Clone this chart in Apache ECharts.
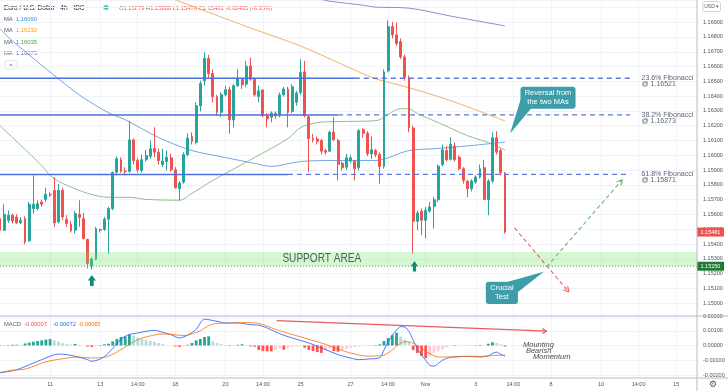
<!DOCTYPE html>
<html>
<head>
<meta charset="utf-8">
<script src="https://cdn.jsdelivr.net/npm/echarts@6/dist/echarts.min.js"></script>
<style>
html,body{margin:0;padding:0;background:#ffffff;}
#chart{width:728px;height:391px;}
</style>
</head>
<body>
<div id="chart"></div>
<script>
// ---------------- data ----------------
const slotCount = 168;
// [open, high, low, close] per 4h candle
const candles = [
[1.15572,1.15606,1.15471,1.15494],[1.15494,1.15669,1.15489,1.15601],[1.15561,1.15628,1.15543,1.15595],[1.15595,1.15606,1.15539,1.15556],
[1.15583,1.15601,1.15534,1.15543],[1.15543,1.15583,1.15534,1.15561],[1.15572,1.15588,1.15399,1.15415],[1.15422,1.15684,1.15415,1.15669],
[1.15640,1.15864,1.15606,1.15669],[1.15640,1.15696,1.15628,1.15673],[1.15684,1.15700,1.15651,1.15669],[1.15702,1.15781,1.15684,1.15736],
[1.15736,1.15748,1.15718,1.15732],[1.15763,1.15853,1.15516,1.15543],[1.15550,1.15808,1.15539,1.15763],[1.15763,1.15781,1.15561,1.15583],
[1.15565,1.15595,1.15516,1.15539],[1.15534,1.15556,1.15478,1.15489],[1.15494,1.15624,1.15471,1.15606],[1.15601,1.15696,1.15516,1.15579],
[1.15572,1.15610,1.15431,1.15437],[1.15431,1.15437,1.15235,1.15269],[1.15253,1.15310,1.15229,1.15298],[1.15298,1.15516,1.15290,1.15505],
[1.15498,1.15505,1.15478,1.15494],[1.15498,1.15583,1.15489,1.15568],[1.15568,1.15651,1.15336,1.15640],[1.15640,1.15889,1.15628,1.15884],
[1.15886,1.15994,1.15864,1.15976],[1.15970,1.15987,1.15882,1.15893],[1.15893,1.15920,1.15864,1.15889],[1.15891,1.16234,1.15882,1.16104],
[1.16104,1.16115,1.15938,1.15965],[1.15965,1.15983,1.15884,1.15902],[1.15898,1.16005,1.15884,1.15970],[1.15970,1.16037,1.15958,1.15999],
[1.15994,1.16100,1.15976,1.16044],[1.16046,1.16189,1.15987,1.16021],[1.16021,1.16046,1.15938,1.15965],[1.15936,1.16044,1.15920,1.15961],
[1.15958,1.16032,1.15898,1.15987],[1.15983,1.16010,1.15889,1.15902],[1.15902,1.15920,1.15774,1.15781],[1.15774,1.15826,1.15696,1.15812],
[1.15819,1.16021,1.15808,1.16005],[1.16005,1.16149,1.15994,1.16115],[1.16127,1.16156,1.16073,1.16095],[1.16088,1.16358,1.16073,1.16335],
[1.16335,1.16504,1.16297,1.16486],[1.16504,1.16695,1.16470,1.16656],[1.16654,1.16680,1.16526,1.16553],[1.16553,1.16582,1.16358,1.16396],
[1.16396,1.16409,1.16268,1.16291],[1.16291,1.16425,1.16257,1.16409],[1.16409,1.16470,1.16398,1.16443],[1.16443,1.16463,1.16145,1.16239],
[1.16239,1.16481,1.16189,1.16470],[1.16470,1.16582,1.16463,1.16522],[1.16513,1.16526,1.16448,1.16477],[1.16481,1.16638,1.16463,1.16602],
[1.16605,1.16661,1.16504,1.16515],[1.16515,1.16526,1.16396,1.16409],[1.16398,1.16470,1.16358,1.16436],[1.16441,1.16448,1.16257,1.16268],
[1.16268,1.16284,1.16189,1.16246],[1.16257,1.16297,1.16223,1.16286],[1.16284,1.16297,1.16246,1.16266],[1.16268,1.16425,1.16257,1.16407],
[1.16409,1.16463,1.16396,1.16448],[1.16448,1.16463,1.16189,1.16291],[1.16297,1.16481,1.16284,1.16463],[1.16358,1.16436,1.16335,1.16421],
[1.16425,1.16650,1.16409,1.16560],[1.16564,1.16638,1.16257,1.16268],[1.16261,1.16268,1.15886,1.16113],[1.16113,1.16145,1.16088,1.16104],
[1.16111,1.16127,1.16073,1.16095],[1.16100,1.16111,1.16005,1.16028],[1.16032,1.16044,1.16005,1.16021],[1.16028,1.16167,1.16021,1.16156],
[1.16156,1.16257,1.16095,1.16106],[1.16100,1.16111,1.15830,1.15938],[1.15947,1.15958,1.15898,1.15916],[1.15920,1.16010,1.15902,1.15983],
[1.15961,1.15999,1.15947,1.15983],[1.15961,1.15970,1.15830,1.15909],[1.15916,1.16178,1.15898,1.16167],[1.16172,1.16185,1.16118,1.16149],
[1.16149,1.16163,1.15994,1.16010],[1.16010,1.16127,1.15976,1.16037],[1.16032,1.16044,1.15987,1.16005],[1.16005,1.16021,1.15808,1.15925],
[1.15925,1.16582,1.15909,1.16564],[1.16571,1.16912,1.16560,1.16870],[1.16870,1.16903,1.16790,1.16814],[1.16814,1.16897,1.16740,1.16755],
[1.16769,1.16790,1.16650,1.16665],[1.16665,1.16680,1.16504,1.16526],[1.16526,1.16540,1.16156,1.16185],[1.16185,1.16200,1.15336,1.15554],
[1.15554,1.15628,1.15494,1.15610],[1.15622,1.15640,1.15460,1.15561],[1.15561,1.15651,1.15437,1.15628],[1.15624,1.15684,1.15610,1.15651],
[1.15655,1.15718,1.15505,1.15700],[1.15700,1.15938,1.15684,1.15927],[1.15938,1.16073,1.15925,1.16037],[1.16032,1.16062,1.15958,1.15970],
[1.15974,1.16122,1.15965,1.16073],[1.16062,1.16088,1.15958,1.15970],[1.15987,1.15999,1.15898,1.15909],[1.15909,1.15920,1.15808,1.15830],
[1.15826,1.15830,1.15718,1.15774],[1.15774,1.15838,1.15755,1.15826],[1.15819,1.15864,1.15808,1.15853],[1.15853,1.15938,1.15842,1.15909],
[1.15916,1.15970,1.15696,1.15702],[1.15700,1.15838,1.15595,1.15826],[1.15826,1.16156,1.15812,1.16118],[1.16118,1.16163,1.16005,1.16021],
[1.16032,1.16046,1.15864,1.15882],[1.15879,1.15888,1.15470,1.15481]
];
// moving averages: [candle index, price]
const maBlue = [[0,1.16854],[3,1.16773],[14,1.16517],[20,1.16389],[26,1.16288],[30,1.16241],[38,1.16120],[46,1.16032],[54,1.15985],[61,1.15945],[65,1.15925],[72,1.15958],[81,1.15965],[90,1.15965],[98,1.16032],[105,1.16046],[113,1.16066],[121,1.16090]];
const maOrange = [[41,1.17062],[60,1.16861],[72,1.16739],[87,1.16551],[90,1.16517],[98,1.16457],[108,1.16369],[121,1.16232]];
const maGreen = [[0,1.16201],[5,1.16066],[10,1.15931],[12,1.15864],[15,1.15810],[21,1.15743],[26,1.15716],[31,1.15716],[35,1.15702],[43,1.15696],[46,1.15743],[51,1.15830],[61,1.15985],[69,1.16113],[72,1.16187],[76,1.16221],[81,1.16228],[90,1.16234],[96,1.16315],[98,1.16315],[100,1.16282],[105,1.16221],[112,1.16133],[117,1.16086],[121,1.16035]];
const maPurple = [[76,1.17060],[79,1.17042],[87,1.17015],[90,1.17002],[98,1.16995],[108,1.16941],[121,1.16875]];
const maLegendValues = ['1.16090','1.16232','1.16035','1.16875'];
// MACD pane
const macdLine = [[0,-0.00186],[4,-0.00164],[8,-0.00119],[10,-0.00096],[14,-0.00058],[16,-0.00062],[18,-0.00073],[21,-0.00096],[22,-0.00107],[24,-0.00092],[25,-0.00075],[26,-0.00050],[27,-0.00020],[28,0.00015],[29,0.00042],[30,0.00062],[31,0.00075],[33,0.00085],[37,0.00103],[39,0.00089],[41,0.00073],[43,0.00051],[45,0.00071],[47,0.00110],[49,0.00178],[52,0.00164],[54,0.00153],[57,0.00153],[60,0.00141],[62,0.00138],[64,0.00119],[67,0.00080],[70,0.00051],[74,0.00017],[78,-0.00028],[81,-0.00062],[84,-0.00085],[86,-0.00096],[88,-0.00092],[91,-0.00082],[92,-0.00030],[93,0.00025],[94,0.00070],[95,0.00105],[96,0.00128],[97,0.00124],[98,0.00095],[99,0.00035],[100,-0.00020],[101,-0.00065],[102,-0.00100],[103,-0.00135],[104,-0.00140],[105,-0.00122],[106,-0.00100],[108,-0.00080],[112,-0.00073],[115,-0.00078],[117,-0.00070],[118,-0.00053],[119,-0.00045],[120,-0.00060],[121,-0.00072]];
const signalLine = [[0,-0.00182],[3,-0.00168],[6,-0.00160],[9,-0.00130],[11,-0.00110],[16,-0.00085],[19,-0.00078],[22,-0.00085],[25,-0.00080],[27,-0.00060],[30,-0.00010],[32,0.00025],[34,0.00050],[37,0.00071],[39,0.00078],[41,0.00076],[44,0.00067],[48,0.00100],[50,0.00135],[52,0.00150],[55,0.00152],[59,0.00155],[62,0.00150],[66,0.00110],[70,0.00075],[74,0.00042],[78,0.00008],[81,-0.00024],[84,-0.00051],[88,-0.00072],[91,-0.00070],[92,-0.00065],[93,-0.00050],[94,-0.00030],[95,-0.00005],[96,0.00015],[97,0.00026],[98,0.00025],[99,0.00015],[100,0.00000],[101,-0.00020],[102,-0.00040],[103,-0.00055],[105,-0.00078],[108,-0.00078],[112,-0.00074],[116,-0.00073],[118,-0.00068],[121,-0.00065]];
const histogram = [
-0.00003,0.00001,0.00003,0.00005,0.00005,0.00004,0.00014,0.00020,0.00026,0.00030,
0.00035,0.00040,0.00044,0.00035,0.00026,0.00016,0.00010,0.00007,0.00011,0.00005,
0.00000,-0.00007,-0.00010,-0.00004,0.00003,0.00008,0.00012,0.00028,0.00044,0.00058,
0.00062,0.00073,0.00067,0.00053,0.00044,0.00037,0.00030,0.00024,0.00017,0.00010,
0.00003,0.00002,-0.00006,-0.00010,-0.00008,0.00005,0.00017,0.00035,0.00044,0.00058,
0.00062,0.00028,0.00017,0.00010,0.00003,0.00003,0.00002,0.00005,0.00008,0.00002,
-0.00006,-0.00008,-0.00030,-0.00038,-0.00040,-0.00040,-0.00030,-0.00020,-0.00028,-0.00018,
-0.00010,-0.00007,-0.00004,-0.00015,-0.00030,-0.00038,-0.00045,-0.00050,-0.00035,-0.00020,
-0.00038,-0.00042,-0.00030,-0.00024,-0.00017,-0.00011,-0.00006,-0.00003,0.00001,-0.00001,
0.00003,0.00008,0.00030,0.00050,0.00070,0.00087,0.00060,0.00040,0.00022,-0.00030,
-0.00050,-0.00070,-0.00085,-0.00072,-0.00052,-0.00040,-0.00025,-0.00012,-0.00005,0.00003,
0.00002,0.00001,-0.00001,0.00001,0.00002,0.00004,0.00001,0.00012,0.00022,0.00017,
0.00008,-0.00007
];
const macdLegendValues = ['-0.00007','-0.00072','-0.00065'];
// time axis labels
const tickIdx  = [12,24,33,42,54,63,72,84,93,102,114,123,132,144,153,162];
const tickText = ['11','13','14:00','18','20','14:00','25','27','14:00','Nov','3','14:00','8','10','14:00','15'];
// levels
const fibLevels = [1.16521, 1.16273, 1.15871];
const fibNames  = ['23.6% Fibonacci','38.2% Fibonacci','61.8% Fibonacci'];
const supportLow = 1.15250, supportHigh = 1.15347;
const lastPrice = 1.15481;
const ohlcText = {O:'1.15879', H:'1.15888', L:'1.15470', C:'1.15481', chg:'-0.00405 (-0.35%)'};

// ---------------- annotation anchors (data coordinates) ----------------
const fibSolidEnd = [85, 81, 69], fibDashEnd = 151, fibLabelIdx = 153.7;
const supportTextAt = [77.1, 1.15298];
const upArrows = [{i:22.0, top:1.15191, bottom:1.15116, w:8}, {i:99.3, top:1.15285, bottom:1.15214, w:7}];
const redPath = [[123.3,1.15509],[136.3,1.15076]];
const greenPath = [[131.0,1.15246],[149.1,1.15835]];
const callout1 = {box:[[124.7,1.16463],[137.9,1.16315]], tip:[[122.2,1.16147],[124.8,1.16382],[127.2,1.16315]], text:'Reversal from\nthe two MAs'};
const callout2 = {box:[[116.4,1.15145],[124.1,1.14995]], tip:[[130.3,1.15213],[121.5,1.15143],[124.1,1.15076]], text:'Crucial\nTest'};
const macdTrend = [[66.3,0.00168],[131.0,0.00097]];
const momentumText = [[125.3,0.00007,'Mounting'],[126.0,-0.00034,'Bearish'],[127.7,-0.00078,'Momentum']];

// ---------------- chart ----------------
const FONT = "'Liberation Sans', Arial, sans-serif";
const chart = echarts.init(document.getElementById('chart'), null, {renderer:'canvas'});
const categories = Array.from({length: slotCount}, (_, i) => String(i));
const kData = candles.map(c => [c[0], c[3], c[2], c[1]]);
const tickSet = new Set(tickIdx);
const histData = histogram.map((v, i) => {
  const p = i > 0 ? histogram[i-1] : 0;
  let col;
  if (v >= 0) col = v >= p ? '#26a69a' : '#b2dfdb';
  else col = v <= p ? '#ff5252' : '#ffcdd2';
  return {value: v, itemStyle: {color: col}};
});

function C(api, i, v) {
  const f = Math.floor(i), t = i - f;
  const a = api.coord([f, v]);
  if (!t) return a;
  const b = api.coord([f + 1, v]);
  return [a[0] + (b[0] - a[0]) * t, a[1]];
}
function chevron(tip, from, len, color, w) {
  const dx = tip[0]-from[0], dy = tip[1]-from[1], L = Math.hypot(dx, dy);
  const ux = dx/L, uy = dy/L, out = [];
  [0.5, -0.5].forEach(a => {
    const ca = Math.cos(a), sa = Math.sin(a);
    const rx = -(ux*ca - uy*sa), ry = -(ux*sa + uy*ca);
    out.push({type:'line', shape:{x1:tip[0], y1:tip[1], x2:tip[0]+rx*len, y2:tip[1]+ry*len}, style:{stroke:color, lineWidth:w}});
  });
  return out;
}
function callout(api, c, color) {
  const a = C(api, c.box[0][0], c.box[0][1]), b = C(api, c.box[1][0], c.box[1][1]);
  const pts = c.tip.map(p => C(api, p[0], p[1]));
  return [
    {type:'polygon', shape:{points:pts}, style:{fill:color}},
    {type:'rect', shape:{x:a[0], y:a[1], width:b[0]-a[0], height:b[1]-a[1], r:3}, style:{fill:color}},
    {type:'text', style:{text:c.text, x:(a[0]+b[0])/2, y:(a[1]+b[1])/2, fill:'#ffffff', font:'7.5px '+FONT, align:'center', verticalAlign:'middle', lineHeight:9}}
  ];
}

function renderPriceAnn(params, api) {
  const cs = params.coordSys;
  const ch = [];
  const yHi = C(api, 0, supportHigh)[1], yLo = C(api, 0, supportLow)[1];
  ch.push({type:'rect', shape:{x:cs.x, y:yHi, width:cs.width, height:yLo-yHi}, style:{fill:'rgba(110,225,100,0.28)'}});
  ch.push({type:'line', shape:{x1:cs.x, y1:yLo, x2:cs.x+cs.width, y2:yLo}, style:{stroke:'#4caf50', lineWidth:1, lineDash:[1,2]}});
  const sp = C(api, supportTextAt[0], supportTextAt[1]);
  ch.push({type:'text', x:sp[0], y:sp[1], scaleX:0.84, style:{text:'SUPPORT AREA', x:0, y:0, fill:'#4a6558', font:"12px 'Liberation Sans', sans-serif", align:'center', verticalAlign:'middle'}});
  fibLevels.forEach((lvl, k) => {
    const a = C(api, 0, lvl), b = C(api, fibSolidEnd[k], lvl), c = C(api, fibDashEnd, lvl);
    ch.push({type:'line', shape:{x1:a[0], y1:a[1], x2:b[0], y2:b[1]}, style:{stroke:'#4d6fe0', lineWidth:1.5}});
    ch.push({type:'line', shape:{x1:b[0], y1:b[1], x2:c[0], y2:c[1]}, style:{stroke:'#5f78e0', lineWidth:1.3, lineDash:[5,4]}});
    const t = C(api, fibLabelIdx, lvl);
    ch.push({type:'text', style:{text:fibNames[k]+'\n@ '+lvl.toFixed(5), x:t[0], y:t[1]-3.2, fill:'#5a6576', font:'7px '+FONT, align:'left', verticalAlign:'top', lineHeight:6}});
  });
  upArrows.forEach(u => {
    const t = C(api, u.i, u.top), b = C(api, u.i, u.bottom);
    const x = t[0], yt = t[1], yb = b[1], hw = u.w/2, sw = u.w*0.23, hh = (yb-yt)*0.5;
    ch.push({type:'polygon', shape:{points:[[x,yt],[x+hw,yt+hh],[x+sw,yt+hh],[x+sw,yb],[x-sw,yb],[x-sw,yt+hh],[x-hw,yt+hh]]}, style:{fill:'#0e8f73'}});
  });
  const r0 = C(api, redPath[0][0], redPath[0][1]), r1 = C(api, redPath[1][0], redPath[1][1]);
  ch.push({type:'line', shape:{x1:r0[0], y1:r0[1], x2:r1[0], y2:r1[1]}, style:{stroke:'#e8625f', lineWidth:1.1, lineDash:[4,3]}});
  chevron(r1, r0, 6, '#e8625f', 1.1).forEach(e => ch.push(e));
  const g0 = C(api, greenPath[0][0], greenPath[0][1]), g1 = C(api, greenPath[1][0], greenPath[1][1]);
  ch.push({type:'line', shape:{x1:g0[0], y1:g0[1], x2:g1[0], y2:g1[1]}, style:{stroke:'#66bb6a', lineWidth:1.1, lineDash:[4,3]}});
  chevron(g1, g0, 6, '#66bb6a', 1.1).forEach(e => ch.push(e));
  callout(api, callout1, '#3d9ea9').forEach(e => ch.push(e));
  callout(api, callout2, '#3d9ea9').forEach(e => ch.push(e));
  // price tags on the axis
  const x0 = cs.x + cs.width;
  [[lastPrice, '#ef5350'], [supportLow, '#1f7a32']].forEach(([p, col]) => {
    const y = C(api, 0, p)[1];
    ch.push({type:'rect', shape:{x:x0, y:y-4.5, width:27, height:9}, style:{fill:col}});
    ch.push({type:'text', style:{text:p.toFixed(5), x:x0+3.5, y:y, fill:'#ffffff', font:'5.5px '+FONT, align:'left', verticalAlign:'middle'}});
  });
  return {type:'group', children:ch};
}

function renderMacdAnn(params, api) {
  const ch = [];
  const a = C(api, macdTrend[0][0], macdTrend[0][1]), b = C(api, macdTrend[1][0], macdTrend[1][1]);
  ch.push({type:'line', shape:{x1:a[0], y1:a[1], x2:b[0], y2:b[1]}, style:{stroke:'#e35d5b', lineWidth:1.2}});
  chevron(b, a, 5, '#e35d5b', 1.2).forEach(e => ch.push(e));
  momentumText.forEach(m => {
    const p = C(api, m[0], m[1]);
    ch.push({type:'text', style:{text:m[2], x:p[0], y:p[1], fill:'#4a4a4a', font:'italic 7.5px '+FONT, align:'left', verticalAlign:'middle'}});
  });
  return {type:'group', children:ch};
}

const gridLine = '#f0f3fa';
const axisText = '#4c525e';
const maColors = ['#2196f3', '#ff9800', '#43a047', '#7e57c2'];

const graphics = [
  {type:'text', x:4, y:8, style:{text:'Euro / U.S. Dollar · 4h · IDC', fill:'#131722', font:'6.5px '+FONT, verticalAlign:'middle'}},
  {type:'circle', shape:{cx:106, cy:7.5, r:3}, style:{fill:'#b2dfdb'}},
  {type:'circle', shape:{cx:106, cy:7.5, r:1.8}, style:{fill:'#26a69a'}},
  {type:'text', x:119, y:8, style:{
    text:'{l|O}{v|'+ohlcText.O+'} {l|H}{v|'+ohlcText.H+'} {l|L}{v|'+ohlcText.L+'} {l|C}{v|'+ohlcText.C+'} {v|'+ohlcText.chg+'}',
    verticalAlign:'middle', font:'5.8px '+FONT,
    rich:{l:{fill:'#7a7f8c', font:'5.8px '+FONT}, v:{fill:'#ef5350', font:'5.8px '+FONT}}}},
  {type:'rect', shape:{x:5, y:60.5, width:12, height:8.5, r:1.5}, style:{fill:'#ffffff', stroke:'#e0e3eb', lineWidth:1}},
  {type:'text', x:11, y:66, style:{text:'^', fill:'#333333', font:'6px '+FONT, align:'center', verticalAlign:'middle'}},
  {type:'text', x:4, y:324, style:{text:'MACD', fill:'#555b66', font:'5.8px '+FONT, verticalAlign:'middle'}},
  {type:'text', x:24, y:324, style:{text:macdLegendValues[0], fill:'#ef5350', font:'5.8px '+FONT, verticalAlign:'middle'}},
  {type:'text', x:53, y:324, style:{text:macdLegendValues[1], fill:'#2962ff', font:'5.8px '+FONT, verticalAlign:'middle'}},
  {type:'text', x:78, y:324, style:{text:macdLegendValues[2], fill:'#ff6d00', font:'5.8px '+FONT, verticalAlign:'middle'}},
  {type:'line', shape:{x1:0, y1:316, x2:728, y2:316}, style:{stroke:'#b8bbc4', lineWidth:1.2}, z:100},
  {type:'line', shape:{x1:0, y1:378, x2:728, y2:378}, style:{stroke:'#b8bbc4', lineWidth:1}, z:100},
  {type:'line', shape:{x1:697, y1:0, x2:697, y2:391}, style:{stroke:'#b8bbc4', lineWidth:1}, z:100},
  {type:'rect', shape:{x:703, y:1.5, width:17.5, height:10, r:2}, style:{fill:'#ffffff', stroke:'#d1d4dc', lineWidth:1}, z:100},
  {type:'text', x:711.7, y:6.8, style:{text:'USD ▾', fill:'#555b66', font:'5px '+FONT, align:'center', verticalAlign:'middle'}, z:101},
  {type:'text', x:713, y:385, style:{text:'⚙', fill:'#555b66', font:"9px 'DejaVu Sans', sans-serif", align:'center', verticalAlign:'middle'}, z:101}
];
maLegendValues.forEach((v, k) => {
  const y = 19.3 + k * 11.3;
  graphics.push({type:'text', x:4, y:y, style:{text:'MA', fill:'#555b66', font:'5.8px '+FONT, verticalAlign:'middle'}});
  graphics.push({type:'text', x:16, y:y, style:{text:v, fill:maColors[k], font:'5.8px '+FONT, verticalAlign:'middle'}});
});

function maSeries(data, color) {
  return {type:'line', xAxisIndex:0, yAxisIndex:0, data:data, smooth:0.3, showSymbol:false, symbol:'none',
    lineStyle:{color:color, width:1}, z:3, silent:true};
}

chart.setOption({
  animation:false,
  backgroundColor:'#ffffff',
  grid:[
    {left:0, right:31, top:0, height:318},
    {left:0, right:31, top:316, height:59}
  ],
  xAxis:[
    {type:'category', gridIndex:0, data:categories, boundaryGap:false,
     axisLine:{show:false}, axisTick:{show:false}, axisLabel:{show:false},
     splitLine:{show:true, interval:(i)=>tickSet.has(i), lineStyle:{color:gridLine, width:1}}},
    {type:'category', gridIndex:1, data:categories, boundaryGap:false,
     axisLine:{show:false}, axisTick:{show:false},
     axisLabel:{show:true, interval:(i)=>tickSet.has(i), margin:6, color:axisText, fontSize:5.5, fontFamily:FONT,
       formatter:(v, i)=>{ const k = tickIdx.indexOf(i); return k >= 0 ? tickText[k] : ''; }},
     splitLine:{show:true, interval:(i)=>tickSet.has(i), lineStyle:{color:gridLine, width:1}}}
  ],
  yAxis:[
    {type:'value', gridIndex:0, position:'right', min:1.149, max:1.1705, interval:0.001, scale:true,
     axisLine:{show:false}, axisTick:{show:false},
     axisLabel:{margin:6, color:axisText, fontSize:5.5, fontFamily:FONT,
       formatter:(v)=> (v < 1.1495 || v > 1.1695) ? '' : v.toFixed(5)},
     splitLine:{show:true, lineStyle:{color:gridLine, width:1}}},
    {type:'value', gridIndex:1, position:'right', min:-0.002, max:0.002, interval:0.001,
     axisLine:{show:false}, axisTick:{show:false},
     axisLabel:{margin:6, color:axisText, fontSize:5.5, fontFamily:FONT, formatter:(v)=>v.toFixed(5)},
     splitLine:{show:true, lineStyle:{color:gridLine, width:1}}}
  ],
  series:[
    maSeries(maBlue, 'rgba(91,150,220,0.85)'),
    maSeries(maOrange, 'rgba(245,166,91,0.9)'),
    maSeries(maGreen, 'rgba(130,185,130,0.9)'),
    maSeries(maPurple, 'rgba(140,123,200,0.9)'),
    {type:'candlestick', xAxisIndex:0, yAxisIndex:0, data:kData, barWidth:2.4, z:4, silent:true,
     itemStyle:{color:'#26a69a', color0:'#ef5350', borderColor:'#26a69a', borderColor0:'#ef5350', borderWidth:1}},
    {type:'custom', xAxisIndex:0, yAxisIndex:0, data:[[60, 1.16]], renderItem:renderPriceAnn, clip:false, z:6, silent:true},
    {type:'bar', xAxisIndex:1, yAxisIndex:1, data:histData, barWidth:2.8, z:2, silent:true},
    {type:'line', xAxisIndex:1, yAxisIndex:1, data:macdLine, smooth:0.3, showSymbol:false, symbol:'none',
     lineStyle:{color:'rgba(41,98,255,0.85)', width:1}, z:3, silent:true},
    {type:'line', xAxisIndex:1, yAxisIndex:1, data:signalLine, smooth:0.3, showSymbol:false, symbol:'none',
     lineStyle:{color:'rgba(255,109,0,0.8)', width:1}, z:3, silent:true},
    {type:'custom', xAxisIndex:1, yAxisIndex:1, data:[[60, 0]], renderItem:renderMacdAnn, clip:false, z:6, silent:true}
  ],
  graphic:graphics
});
</script>
</body>
</html>
